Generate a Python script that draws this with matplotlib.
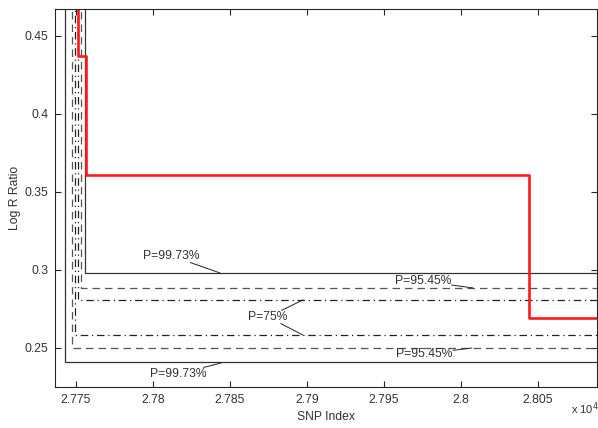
import matplotlib
matplotlib.use("Agg")
import matplotlib.pyplot as plt

plt.rcParams['font.family'] = ['Liberation Sans', 'DejaVu Sans']

# SNP index limits and ticks
x_lim = [27736.3, 28088.5]
y_lim = [0.225, 0.4673]
x_ticks = [27750, 27800, 27850, 27900, 27950, 28000, 28050]
x_tick_labels = ['2.775', '2.78', '2.785', '2.79', '2.795', '2.8', '2.805']
y_ticks = [0.25, 0.3, 0.35, 0.4, 0.45]
y_tick_labels = ['0.25', '0.3', '0.35', '0.4', '0.45']

# segmented log R ratio (red step line)
seg_x = [27751.3, 27751.3, 27756.5, 27756.5, 28044.2, 28044.2, 28088.5]
seg_y = [0.50, 0.4372, 0.4372, 0.3607, 0.3607, 0.2690, 0.2690]

# confidence bounds: (x of vertical rise, level)
p9973_up = (27755.8, 0.2981)
p9973_lo = (27742.9, 0.2410)
p9545_up = (27753.2, 0.2885)
p9545_lo = (27747.4, 0.2500)
p75_up = (27751.3, 0.2808)
p75_lo = (27749.4, 0.2583)

fig = plt.figure(figsize=(5.98, 4.28), dpi=100)
ax = fig.add_axes([0.092, 0.0958, 0.9064, 0.8832])

axis_col = '#262626'
txt_col = '#333333'

def bound(b, style, col):
    x0, lev = b
    ax.plot([x0, x0, x_lim[1]], [0.5, lev, lev], color=col, lw=0.9,
            linestyle=style)

dash = (0, (6, 4))
dashdot = (0, (6, 3, 1, 3))
bound(p9973_up, '-', '#333333')
bound(p9973_lo, '-', '#333333')
bound(p9545_up, dash, '#555555')
bound(p9545_lo, dash, '#555555')
bound(p75_up, dashdot, '#222222')
bound(p75_lo, dashdot, '#222222')

ax.plot(seg_x, seg_y, color='#ff1a1a', lw=1.9)

# labels with leader lines
arrow = dict(arrowstyle='-', color='#222222', lw=0.7, shrinkA=0, shrinkB=0)
def label(txt, xy, xytext, col=txt_col):
    ax.annotate(txt, xy=xy, xytext=xytext, ha='center', va='center',
                fontsize=8.7, color=col, arrowprops=arrow,
                bbox=dict(boxstyle='square,pad=0.05', fc='none', ec='none'))

label('P=99.73%', (27843.5, 0.2981), (27812.0, 0.3090))
label('P=99.73%', (27844.2, 0.2404), (27816.2, 0.2333))
label('P=95.45%', (28007.8, 0.2885), (27975.3, 0.2929))
label('P=95.45%', (28007.1, 0.2500), (27976.3, 0.2462))
label('P=75%', (27897.4, 0.2808), (27874.7, 0.2699))
label('P=75%', (27897.4, 0.2583), (27874.7, 0.2699), col='none')

ax.set_xlim(x_lim)
ax.set_ylim(y_lim)
ax.set_xticks(x_ticks)
ax.set_xticklabels(x_tick_labels)
ax.set_yticks(y_ticks)
ax.set_yticklabels(y_tick_labels)
ax.tick_params(direction='in', length=4, width=0.8, top=True, right=True,
               labelsize=8.7, colors=axis_col, labelcolor=txt_col, pad=5)
for s in ax.spines.values():
    s.set_color(axis_col)
    s.set_linewidth(0.8)

ax.set_xlabel('SNP Index', fontsize=8.7, color=txt_col, labelpad=4)
ax.set_ylabel('Log R Ratio', fontsize=8.7, color=txt_col)
ax.yaxis.set_label_coords(-0.062, 0.5)
fig.text(0.955, 0.045, r'x 10$^4$', fontsize=8, color=txt_col,
         ha='left', va='center')

fig.savefig('out.png', dpi=100)
